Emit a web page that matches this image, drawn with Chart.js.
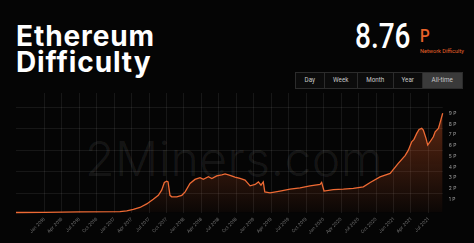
<!DOCTYPE html>
<html><head><meta charset="utf-8">
<script src="https://cdn.jsdelivr.net/npm/chart.js@4.4.1/dist/chart.umd.min.js"></script>
<style>
html,body{margin:0;padding:0;background:#050505;width:474px;height:243px;overflow:hidden;font-family:Inter,"Noto Sans",sans-serif}
#wrap{position:relative;width:474px;height:243px}
#c{position:absolute;left:0;top:0;z-index:2}
.wm{position:absolute;left:85px;top:135px;font-size:48px;line-height:48px;font-weight:300;color:rgba(255,255,255,0.075);z-index:1;white-space:nowrap;letter-spacing:0.5px}
.title{position:absolute;left:16px;top:22.5px;color:#fff;font-weight:700;font-size:28px;line-height:26px;letter-spacing:0.9px}
.big{position:absolute;left:355px;top:19px;color:#fff;font-family:Roboto,sans-serif;font-weight:500;font-size:35px;line-height:35px;transform:scaleX(0.8);transform-origin:left top;white-space:nowrap}
.unit{position:absolute;left:420px;top:25.5px;color:#e8622a;font-family:Roboto,sans-serif;font-weight:500;font-size:19px;line-height:19px;transform:scaleX(0.8);transform-origin:left top}
.sub{position:absolute;left:420px;top:48px;color:#e8622a;font-family:Roboto,sans-serif;font-size:5.6px;line-height:7px;white-space:nowrap}
.btns{position:absolute;left:295px;top:71.5px;height:15px;display:flex;border:1px solid #2c2c2c;background:#0c0c0c}
.btns div{height:15px;line-height:15px;text-align:center;color:#c8c8c8;font-family:Roboto,sans-serif;font-size:6.3px;border-left:1px solid #2c2c2c;box-sizing:border-box}
.btns div:first-child{border-left:none}
.btns .on{background:#3a3a3a}
</style></head>
<body><div id="wrap">
<div class="wm">2Miners.com</div>
<div class="title">Ethereum<br>Difficulty</div>
<div class="big">8.76</div>
<div class="unit">P</div>
<div class="sub">Network Difficulty</div>
<div class="btns">
<div style="width:27.5px">Day</div><div style="width:33.5px">Week</div><div style="width:35.5px">Month</div><div style="width:29.5px">Year</div><div class="on" style="width:39.5px">All-time</div>
</div>
<canvas id="c" width="474" height="243"></canvas>
</div>
<script>
const dates = ["2015-08-05","2016-01-01","2016-07-05","2017-02-01","2017-03-06","2017-04-10","2017-05-14","2017-06-19","2017-07-23","2017-08-19","2017-09-06","2017-09-20","2017-10-02","2017-10-09","2017-10-19","2017-10-28","2017-11-24","2017-12-20","2018-01-07","2018-02-02","2018-02-28","2018-03-24","2018-04-11","2018-05-07","2018-05-25","2018-06-20","2018-07-16","2018-08-03","2018-08-29","2018-09-24","2018-10-20","2018-11-16","2018-12-12","2019-01-08","2019-01-25","2019-02-08","2019-02-20","2019-02-28","2019-03-25","2019-05-16","2019-07-08","2019-08-30","2019-10-21","2019-12-13","2019-12-21","2020-01-03","2020-02-21","2020-04-13","2020-06-04","2020-07-26","2020-09-01","2020-10-22","2020-12-14","2021-01-26","2021-03-01","2021-03-18","2021-04-05","2021-04-17","2021-05-01","2021-05-13","2021-05-27","2021-06-05","2021-06-19","2021-06-28","2021-07-10","2021-07-27","2021-08-06","2021-08-23","2021-09-05","2021-09-15"];
const difficulty = [0.0,0.02,0.05,0.08,0.15,0.28,0.47,0.8,1.24,1.6,2.08,2.8,2.92,2.85,1.6,1.46,1.46,1.6,1.92,2.7,3.08,3.25,3.1,3.33,3.17,3.41,3.5,3.6,3.45,3.3,3.17,3.01,2.48,2.61,2.85,2.55,2.85,1.92,1.83,1.99,2.17,2.3,2.48,2.61,2.8,2.0,2.14,2.17,2.24,2.39,2.8,3.32,3.64,4.57,5.3,5.81,6.59,6.81,7.37,7.74,7.84,7.68,6.9,6.28,6.59,7.05,7.52,7.84,8.61,9.24];
const tickLabels = ["Jan 2016","Apr 2016","Jul 2016","Oct 2016","Jan 2017","Apr 2017","Jul 2017","Oct 2017","Jan 2018","Apr 2018","Jul 2018","Oct 2018","Jan 2019","Apr 2019","Jul 2019","Oct 2019","Jan 2020","Apr 2020","Jul 2020","Oct 2020","Jan 2021","Apr 2021","Jul 2021"];
const yTickValues = [1,2,3,4,5,6,7,8,9];
const gridValues = [1.8,3.8,5.8,7.8,9.8];

function monthIndex(s){const p=s.split('-').map(Number);return (p[0]-2016)*12+(p[1]-1)+(p[2]-1)/30.4;}
Chart.defaults.font.family = 'Inter, "Noto Sans", sans-serif';
const points = dates.map((d,i)=>({x:monthIndex(d),y:difficulty[i]}));
const gridColor = 'rgba(255,255,255,0.075)';
new Chart(document.getElementById('c'),{
  type:'line',
  data:{datasets:[{
    data:points, borderColor:'#ee6a34', borderWidth:1.3, pointRadius:0, tension:0, fill:'origin', clip:false,
    backgroundColor:(ctx)=>{const ch=ctx.chart, a=ch.chartArea; if(!a) return 'rgba(0,0,0,0)';
      const g=ch.ctx.createLinearGradient(0,a.top,0,a.bottom);
      g.addColorStop(0,'rgba(235,95,40,0.45)'); g.addColorStop(1,'rgba(235,95,40,0.03)'); return g;}
  }]},
  options:{
    responsive:false, animation:false,
    layout:{padding:{left:16,top:93,right:0,bottom:0}},
    plugins:{legend:{display:false},tooltip:{enabled:false}},
    scales:{
      x:{type:'linear',min:monthIndex("2015-08-05"),max:monthIndex("2021-09-15"),
        afterBuildTicks:s=>{s.ticks=tickLabels.map((_,i)=>({value:i*3}));},
        ticks:{callback:v=>tickLabels[Math.round(v/3)],color:'#6e6e6e',font:{size:4.6},maxRotation:45,minRotation:45,padding:4,autoSkip:false},
        grid:{color:gridColor,drawTicks:false}, border:{display:false},
        afterFit:s=>{s.height=243-212.5;}},
      y:{position:'right',min:0,max:11.13,
        afterBuildTicks:s=>{s.ticks=yTickValues.map(v=>({value:v}));},
        ticks:{callback:v=>v+' P',color:'#9a9a9a',font:{size:5},padding:6,labelOffset:-2.5},
        grid:{display:false,drawTicks:false}, border:{display:false},
        afterFit:s=>{s.width=474-442.7;}},
      g:{position:'left',min:0,max:11.13,
        afterBuildTicks:s=>{s.ticks=gridValues.map(v=>({value:v}));},
        ticks:{display:false}, grid:{color:gridColor,drawTicks:false}, border:{display:false},
        afterFit:s=>{s.width=0;}}
    }
  }
});
</script>
</body></html>
